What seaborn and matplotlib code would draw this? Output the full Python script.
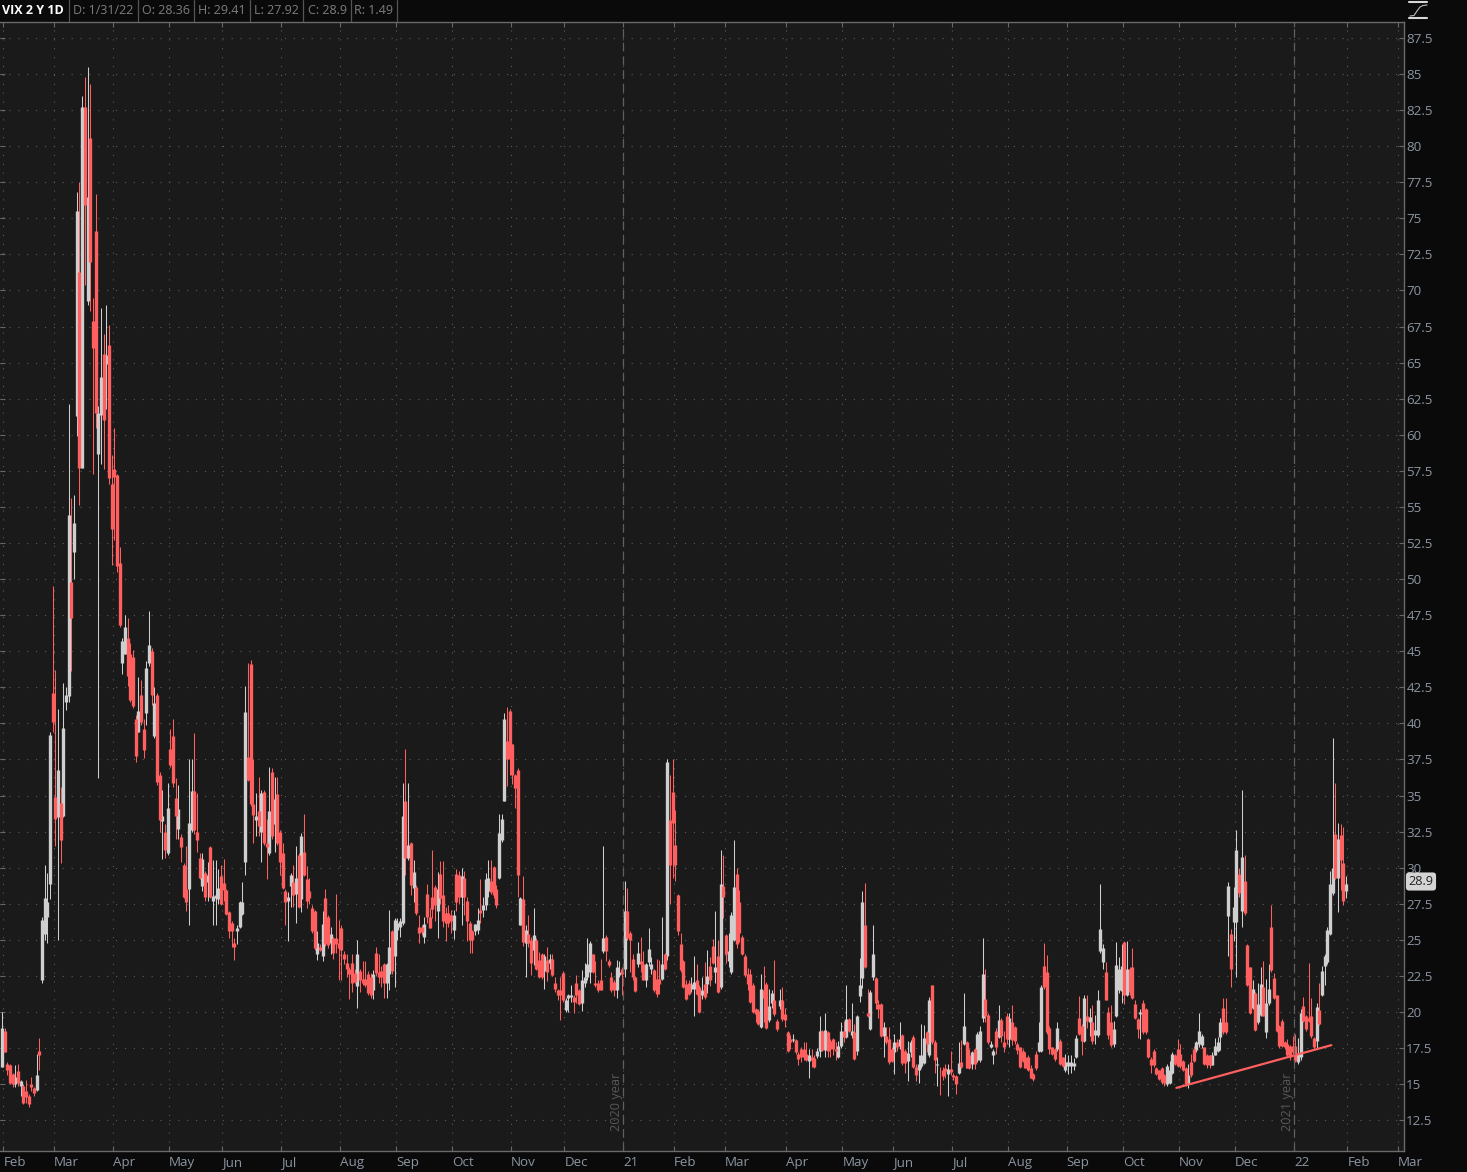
import pandas as pd
import seaborn as sns
import matplotlib.pyplot as plt
from matplotlib.lines import Line2D

# open, high, low, close per trading day
jan_20 = [(16.2,20.0,16.2,18.9)]
feb_20 = [(18.7,18.9,17.2,17.2),(16.4,16.5,15.6,16.0),(16.3,16.4,15.0,15.1),(15.7,15.8,14.8,15.0),(15.0,16.3,14.8,15.5),
          (15.9,16.4,14.9,15.1),(14.9,15.3,14.2,15.2),(14.9,15.0,13.6,13.7),(14.5,15.3,13.7,14.1),(14.2,14.3,13.4,13.6),
          (15.0,15.5,14.5,14.8),(14.7,14.8,14.2,14.4),(14.6,17.1,14.5,15.6),(17.3,18.2,16.0,17.0),(22.2,26.6,22.0,26.4),
          (25.4,30.2,25.0,27.9),(26.6,29.6,24.75,27.6),(28.9,39.4,27.8,39.2),(42.1,49.5,39.4,40.1)]
mar_20 = [(34.9,43.7,31.5,33.4),(33.5,41.0,25.0,36.8),(34.5,35.6,30.3,31.9),(33.6,42.8,33.5,39.7),(41.5,42.5,40.9,42.0),
          (41.9,62.1,41.5,54.46),(49.8,55.6,43.6,47.3),(51.9,55.8,50.0,53.9),(61.3,76.8,59.9,75.5),(71.3,77.5,55.1,57.7),
          (57.7,83.5,57.7,82.7),(82.7,84.8,70.4,75.9),(69.3,85.5,69.0,76.5),(80.6,84.3,68.6,72.0),(67.9,69.5,57.3,66.0),
          (74.1,76.7,60.5,61.5),(58.7,62.0,36.2,61.5),(61.4,68.8,58.0,64.0),(65.6,67.0,57.6,61.0),(64.9,69.0,61.8,65.5),
          (66.2,67.6,56.6,57.0),(56.6,58.6,51.0,53.5)]
apr_20 = [(57.6,60.5,52.7,57.06),(57.2,57.3,50.5,50.9),(51.1,52.2,46.7,46.8),(44.2,45.9,43.4,45.7),(44.8,47.5,44.8,46.7),
          (45.9,47.3,42.6,43.3),(44.8,45.6,41.5,41.6),(44.6,45.1,41.1,41.2),(40.3,40.6,37.3,37.75),(39.4,43.2,39.4,40.84),
          (42.0,43.0,39.9,40.1),(39.6,40.3,37.6,38.15),(40.7,44.3,39.9,43.83),(44.2,47.8,44.0,45.41),(45.0,45.2,41.3,41.98),
          (39.1,42.5,39.0,41.4),(42.0,42.1,35.7,35.93),(36.4,36.6,32.5,33.29),(33.2,35.4,30.6,33.57),(32.5,33.0,30.7,31.23),
          (31.0,35.9,30.9,34.15)]
may_20 = [(38.2,39.6,37.0,37.1),(39.1,40.3,35.6,35.9),(34.85,36.2,32.0,33.6),(32.7,35.7,32.0,34.1),(32.1,32.3,30.4,31.4),
          (30.2,30.3,27.9,27.95),(28.5,31.5,27.0,27.6),(28.5,37.5,26.0,33.1),(32.6,37.5,32.5,35.3),(35.3,39.3,32.3,32.6),
          (32.5,35.2,31.1,31.9),(30.7,31.0,29.2,29.3),(28.7,31.0,28.4,30.6),(29.6,29.8,27.7,28.0),(29.0,30.4,27.7,29.5),
          (31.4,31.5,27.9,28.0),(27.7,30.5,26.0,28.05),(27.9,30.5,26.0,28.1),(27.8,29.9,27.5,28.6),(29.4,30.2,27.4,27.5)]
jun_20 = [(28.95,30.6,27.7,28.45),(28.45,28.5,26.7,26.8),(26.9,27.0,25.1,25.6),(26.2,26.3,24.5,25.6),(24.8,25.1,23.6,24.5),
          (25.6,26.0,24.7,25.85),(25.9,27.7,25.8,27.6),(26.8,29.0,26.7,27.6),(30.4,42.6,29.5,40.8),(37.7,44.2,36.0,36.1),
          (44.1,44.4,34.3,34.4),(34.4,37.5,31.7,33.65),(33.3,35.2,32.2,33.55),(33.9,36.3,32.2,32.9),(32.5,35.4,30.4,35.2),
          (35.25,35.4,31.6,31.7),(31.7,33.4,29.2,31.4),(31.0,37.0,30.9,33.9),(36.6,36.9,32.0,32.2),(33.0,36.25,31.1,34.75),
          (35.1,36.3,31.6,31.7),(32.5,32.6,29.5,30.4)]
jul_20 = [(31.0,31.7,28.5,28.6),(28.4,28.5,26.0,27.6),(27.7,28.3,24.9,28.0),(28.75,29.6,27.3,29.5),(29.0,30.2,27.3,28.1),
          (28.2,31.5,26.2,29.3),(30.9,31.0,27.2,27.3),(27.8,32.4,26.9,32.2),(31.1,33.7,29.4,29.5),(29.2,30.1,27.2,27.7),
          (28.4,29.3,27.5,27.9),(27.2,27.4,25.5,25.6),(27.0,27.1,24.3,24.4),(24.0,25.6,23.6,24.8),(24.5,24.7,24.2,24.3),
          (23.9,27.0,23.5,26.1),(27.9,28.5,24.6,24.7),(26.6,26.7,24.4,24.65),(24.8,25.9,24.0,25.4),(25.1,25.2,23.7,24.1),
          (25.1,28.2,24.1,24.7),(24.8,26.4,22.2,24.4)]
aug_20 = [(25.8,26.0,22.2,24.3),(24.0,24.2,23.3,23.7),(23.4,24.0,22.4,23.0),(23.0,23.1,20.9,22.6),(23.4,24.0,21.4,22.0),
          (22.7,23.0,22.0,22.1),(21.8,25.0,20.3,24.0),(22.85,23.0,21.4,22.2),(22.3,23.5,21.9,22.0),(22.3,23.5,21.7,21.9),
          (22.6,22.85,21.2,21.3),(22.45,22.7,21.0,21.2),(21.5,22.9,20.9,22.6),(24.1,24.5,22.5,22.7),(22.8,24.0,22.0,22.45),
          (22.85,23.2,21.7,22.4),(23.3,23.4,20.95,22.0),(22.0,23.4,21.0,23.3),(22.6,27.1,21.5,24.5),(25.6,25.7,22.6,22.85),
          (23.85,26.5,21.7,26.4)]
sep_20 = [(25.7,26.5,25.0,26.2),(25.9,26.5,25.2,26.3),(26.2,35.9,26.0,33.6),(34.6,38.2,29.5,30.7),(30.7,35.9,30.55,31.6),
          (31.7,31.8,28.1,28.8),(28.6,30.55,27.6,29.7),(28.65,28.8,26.7,26.85),(25.9,26.7,24.8,25.5),(25.9,26.0,25.3,25.55),
          (25.2,26.55,24.8,26.1),(28.2,28.9,26.15,26.55),(26.6,27.2,25.8,25.8),(28.0,31.2,26.5,27.15),(28.65,28.8,26.3,27.4),
          (27.0,29.7,25.1,28.55),(29.55,30.45,27.5,27.9),(28.1,30.45,25.9,26.3),(26.85,27.3,24.9,26.2),(26.85,27.4,25.9,26.2),
          (26.7,27.1,25.5,26.3)]
oct_20 = [(25.7,27.1,25.05,26.7),(29.55,29.9,27.0,27.6),(29.5,29.8,27.5,28.0),(28.0,30.0,26.0,29.45),(29.3,29.75,26.7,28.0),
          (27.7,28.0,24.9,26.3),(26.2,26.3,24.1,25.0),(25.6,25.7,24.1,25.0),(25.6,26.1,25.35,26.1),(25.7,27.2,25.4,26.4),
          (27.1,29.2,26.15,26.85),(27.1,28.0,26.6,27.4),(27.4,29.65,27.1,29.2),(28.35,30.55,28.0,29.3),(29.1,30.55,28.2,28.3),
          (30.05,30.1,27.9,28.1),(28.5,28.8,27.2,27.4),(29.3,33.7,29.2,32.4),(31.9,33.7,31.75,33.35),(34.65,40.75,34.6,40.3),
          (38.8,41.15,35.65,37.5),(40.85,41.0,36.45,37.5)]
nov_20 = [(38.55,38.6,35.8,36.45),(36.45,36.5,34.15,35.55),(36.8,36.9,28.0,29.5),(26.05,28.0,26.0,27.9),(27.85,29.4,24.55,24.85),
          (24.8,26.0,22.4,25.7),(25.4,26.7,24.5,24.8),(25.0,25.2,22.55,23.4),(24.3,27.2,23.25,25.35),(25.0,25.1,22.9,23.0),
          (23.6,24.15,22.35,22.45),(24.05,24.1,22.3,22.4),(22.85,24.0,21.6,23.85),(23.6,24.5,22.15,22.8),(23.4,24.0,23.0,23.7),
          (23.65,24.0,22.5,22.55),(22.0,22.4,21.4,21.6),(21.5,21.6,20.85,21.2),(21.5,22.4,19.45,21.15),(22.7,22.85,20.7,20.85)]
dec_20 = [(20.15,21.0,20.0,20.8),(20.95,21.25,20.0,21.15),(21.05,21.9,20.7,21.2),(21.05,21.2,19.9,20.7),(22.0,22.55,20.6,21.2),
          (21.5,21.6,20.5,20.55),(20.6,22.9,20.05,22.2),(22.0,23.4,21.7,22.45),(22.45,25.1,22.2,23.3),(22.8,24.9,22.0,24.75),
          (24.0,24.05,22.7,22.8),(22.0,23.5,21.7,21.85),(22.0,22.2,21.4,21.5),(22.2,23.7,21.5,21.55),(24.2,31.5,24.1,25.15),
          (25.2,25.3,23.5,24.2),(23.5,23.7,23.1,23.25),(22.45,22.8,21.4,21.5),(22.1,22.2,21.1,21.5),(21.5,23.6,21.0,23.1),
          (22.55,23.5,22.4,22.8),(23.0,23.1,21.2,22.65)]
jan_21 = [(23.0,29.1,22.45,27.0),(27.0,28.6,25.0,25.1),(25.45,25.6,22.8,25.0),(23.7,24.0,22.2,22.4),(22.45,22.5,21.4,21.45),
          (23.3,24.85,23.1,24.1),(23.55,25.2,22.8,23.35),(23.3,24.2,22.2,22.2),(22.2,23.4,21.7,23.3),(23.45,25.8,23.2,24.35),
          (23.0,23.8,22.6,23.3),(22.9,23.0,21.4,21.5),(22.3,23.7,21.05,21.25),(22.3,23.6,21.25,21.95),(22.3,26.6,22.2,23.3),
          (24.0,24.1,22.9,23.0),(23.85,37.5,23.6,37.3),(33.3,36.4,27.5,30.2),(35.25,37.55,29.3,33.1)]
feb_21 = [(31.55,34.0,29.1,30.2),(28.1,28.15,25.35,25.6),(24.7,25.45,22.8,22.9),(23.5,23.6,21.65,21.75),(21.95,22.2,20.8,20.9),
          (22.0,22.2,21.2,21.25),(21.6,22.4,21.4,21.95),(21.6,23.9,19.75,22.05),(22.2,23.3,21.2,21.25),(21.7,21.9,19.95,20.0),
          (21.15,22.45,20.9,21.5),(21.95,23.45,20.9,21.05),(21.95,24.3,21.3,22.5),(23.2,23.8,21.8,22.2),(24.55,25.05,23.3,23.4),
          (22.75,27.0,22.0,23.1),(23.85,25.0,21.3,21.4),(21.7,31.2,21.6,28.9),(28.75,30.85,26.5,27.95)]
mar_21 = [(25.3,25.4,23.4,24.05),(23.55,25.5,23.1,24.2),(22.8,26.9,22.6,26.75),(25.0,31.95,24.9,28.65),(29.55,30.0,24.4,24.7),
          (27.6,28.45,24.85,25.45),(25.2,25.3,23.95,24.05),(23.85,24.0,22.4,22.55),(22.65,23.05,21.5,21.95),(22.65,23.0,20.6,20.7),
          (21.9,22.0,19.95,20.0),(20.2,20.3,19.3,19.85),(20.1,20.2,19.1,19.2),(18.95,22.65,18.9,21.6),(21.5,23.2,19.3,20.95),
          (21.95,22.1,18.85,18.9),(19.45,21.6,19.3,20.4),(20.65,21.55,20.3,21.3),(20.85,23.6,19.7,19.85),(19.4,19.5,18.7,18.8),
          (20.4,21.6,20.2,20.8),(20.8,21.75,19.4,19.5),(19.85,20.3,18.95,19.45)]
apr_21 = [(18.6,18.65,17.25,17.3),(18.1,18.4,17.4,17.9),(18.05,18.5,17.9,18.1),(18.05,18.1,17.1,17.2),(17.1,17.2,16.3,16.75),
          (17.45,17.6,16.5,16.85),(17.45,17.9,16.7,16.85),(17.1,17.9,16.6,16.7),(16.6,17.4,15.45,17.0),(16.85,17.45,16.2,16.65),
          (16.8,17.0,16.1,16.2),(16.95,17.5,16.8,17.3),(17.3,19.7,16.85,18.7),(18.7,18.75,17.3,17.35),(17.35,19.9,16.85,18.75),
          (18.6,18.7,16.85,17.3),(18.0,18.1,16.9,17.45),(18.1,18.2,17.0,17.45),(17.45,17.9,16.7,17.3),(16.85,18.0,16.8,17.65),
          (17.65,19.3,17.5,18.7)]
may_21 = [(18.7,19.35,17.9,18.3),(18.25,21.9,18.2,19.5),(19.5,19.6,18.6,18.7),(18.4,20.6,18.2,18.7),(18.6,19.2,16.7,16.75),
          (17.3,19.8,17.0,19.75),(21.1,23.75,20.7,21.9),(22.35,28.4,21.65,27.65),(26.05,28.95,23.05,23.15),(19.95,21.6,19.65,19.7),
          (18.8,21.5,18.75,21.4),(22.4,26.0,22.2,24.05),(22.35,22.4,20.2,20.65),(20.55,20.8,19.6,20.2),(20.55,20.6,18.3,18.35),
          (18.35,19.3,16.85,18.95),(18.35,18.95,17.8,17.9),(18.1,18.95,16.4,16.5),(17.4,17.6,16.5,16.6)]
jun_21 = [(17.25,18.5,15.7,17.9),(17.9,18.1,17.3,17.55),(17.65,19.3,17.4,18.1),(18.4,18.5,16.3,16.45),(17.3,17.4,15.8,16.45),
          (16.6,18.0,15.2,17.15),(17.2,18.05,16.9,17.95),(18.25,18.4,16.1,16.2),(16.2,16.4,15.25,15.65),(15.95,17.05,15.05,16.4),
          (16.25,19.15,16.1,17.05),(16.45,19.1,16.4,18.2),(18.6,18.7,17.2,17.75),(17.0,21.05,16.9,20.85),(21.85,21.9,17.8,17.9),
          (17.95,18.05,15.75,16.65),(16.3,16.85,14.9,16.4),(16.0,16.2,14.25,15.95),(16.0,16.2,15.3,15.55),(16.1,16.4,15.45,15.9),
          (15.7,16.4,14.15,16.05),(16.05,17.3,15.6,15.85)]
jul_21 = [(15.6,15.8,15.3,15.5),(15.55,15.6,14.3,15.0),(15.75,17.95,15.7,16.45),(16.5,18.05,16.1,16.2),(17.75,21.3,17.7,19.0),
          (17.95,18.0,16.1,16.15),(17.0,17.45,16.05,16.15),(16.4,17.3,16.05,17.2),(17.4,17.5,16.05,16.4),(16.7,18.6,16.5,18.5),
          (16.7,19.0,16.5,18.7),(19.6,25.15,19.3,22.6),(20.9,23.0,19.3,19.75),(19.8,19.9,17.8,17.9),(17.6,18.0,17.5,17.75),
          (17.05,17.45,16.4,17.3),(18.7,18.9,17.1,17.6),(18.3,20.45,18.2,19.45),(19.45,19.6,17.9,18.35),(17.95,18.7,17.2,17.6),
          (19.75,19.9,17.8,18.15)]
aug_21 = [(18.15,19.9,17.6,19.55),(19.3,20.45,17.7,18.05),(18.95,19.0,17.8,18.0),(17.8,17.9,17.1,17.35),(17.55,17.6,16.1,16.2),
          (17.3,17.4,16.5,16.6),(16.9,17.2,16.1,16.15),(16.85,17.0,15.9,16.0),(16.15,16.3,15.4,15.45),(15.7,15.8,15.2,15.35),
          (17.1,17.3,16.0,16.1),(17.3,19.3,17.2,17.9),(17.3,21.9,17.2,21.7),(23.2,24.75,21.6,21.7),(22.8,23.95,18.5,18.6),
          (18.9,19.0,17.1,17.45),(17.55,17.6,17.0,17.1),(17.45,17.5,16.6,16.75),(17.45,19.3,17.3,18.9),(18.0,18.1,16.3,16.4),
          (16.85,16.9,16.2,16.25),(16.0,17.1,15.85,16.5)]
sep_21 = [(16.25,17.0,15.7,16.5),(16.25,17.05,15.75,16.5),(16.25,16.8,16.0,16.45),(16.9,18.4,16.8,18.2),(19.6,21.1,18.4,18.5),
          (19.05,19.2,17.0,18.0),(18.0,21.2,17.9,21.0),(19.7,21.2,18.9,19.4),(19.3,20.3,18.35,19.65),(19.3,20.45,17.8,18.0),
          (18.4,19.8,17.8,18.75),(18.4,21.55,18.3,20.85),(24.25,28.85,24.1,25.75),(23.45,24.7,23.0,24.4),(22.8,23.45,20.8,20.85),
          (20.0,20.35,18.1,18.4),(19.3,20.45,17.6,17.7),(17.75,19.35,17.6,18.85),(19.75,24.85,19.65,23.25),(21.5,23.8,21.3,23.0),
          (21.45,24.7,20.65,23.2)]
oct_21 = [(24.85,24.95,20.55,21.15),(21.2,24.9,21.1,23.0),(23.0,23.1,21.2,21.35),(23.1,24.4,20.9,21.0),(20.55,20.8,19.5,19.6),
          (19.5,19.6,18.2,18.8),(19.85,20.2,18.1,20.0),(20.65,20.8,18.5,18.6),(20.2,20.25,18.5,18.6),(18.1,18.2,16.8,16.85),
          (16.75,16.85,15.8,16.3),(17.3,17.4,16.2,16.3),(16.15,16.2,15.65,15.7),(15.95,16.0,15.3,15.35),(16.15,16.2,15.0,15.15),
          (15.6,15.7,14.9,15.1),(15.0,16.4,14.85,16.25),(15.1,16.6,15.0,16.0),(15.8,17.2,15.7,17.1),(17.0,17.1,16.3,16.4),
          (17.45,18.1,16.2,16.25)]
nov_21 = [(17.1,17.8,16.1,16.25),(16.6,16.7,15.9,16.0),(16.15,16.2,14.9,15.0),(15.05,16.4,14.7,15.6),(16.5,17.1,15.5,15.6),
          (17.4,17.65,16.5,16.6),(17.35,18.0,17.2,17.9),(17.8,19.9,17.6,18.7),(17.7,18.5,17.5,18.35),(17.55,17.6,16.3,16.4),
          (17.0,17.1,16.15,16.35),(17.0,17.05,16.1,16.3),(16.35,17.2,16.3,17.05),(17.05,18.2,17.0,17.65),(17.3,18.3,17.2,17.9),
          (18.25,19.6,17.35,19.3),(20.3,21.0,18.5,18.6),(19.3,21.0,18.5,18.6),(26.65,29.0,23.85,28.7),(25.4,25.75,21.7,23.0),
          (26.25,28.65,24.95,27.3)]
dec_21 = [(26.25,32.6,22.45,31.2),(29.55,30.0,28.0,28.25),(27.0,35.4,25.9,30.75),(29.05,30.9,26.75,26.85),(24.65,24.7,21.8,21.85),
          (23.1,23.15,19.85,19.9),(20.3,22.2,20.2,21.6),(21.3,21.4,18.7,18.75),(19.3,22.0,19.2,20.55),(19.8,23.15,19.7,21.95),
          (21.7,23.5,19.7,19.75),(18.6,22.3,18.2,20.65),(20.65,23.3,20.5,21.6),(25.9,27.4,22.8,22.9),(22.35,22.7,20.9,21.0),
          (21.15,21.2,18.6,18.7),(19.05,19.1,17.5,17.65),(19.4,19.5,17.6,17.65),(17.9,18.0,17.45,17.55),(17.8,18.1,16.9,17.0),
          (17.65,17.7,16.7,16.85),(17.65,18.35,17.1,17.2)]
jan_22 = [(17.65,18.5,16.5,16.6),(16.5,18.2,16.4,17.1),(16.85,20.2,16.7,19.9),(20.4,21.05,19.3,19.4),(19.7,19.8,18.7,18.8),
          (19.6,23.4,19.3,19.4),(19.7,21.0,18.2,18.35),(18.2,18.3,17.4,17.6),(18.0,20.6,17.4,20.35),(20.15,22.0,19.1,19.2),
          (21.2,23.2,21.1,22.85),(23.2,24.0,21.85,23.9),(23.45,25.9,23.3,25.65),(25.4,29.8,25.3,28.9),(28.25,39.0,28.1,29.95),
          (32.35,35.9,29.2,29.3),(29.3,33.1,26.9,32.0),(32.25,33.0,28.45,30.5),(30.35,32.8,27.4,27.7),(28.36,29.41,27.92,28.9)]

months = [feb_20, mar_20, apr_20, may_20, jun_20, jul_20, aug_20, sep_20, oct_20, nov_20, dec_20, jan_21,
          feb_21, mar_21, apr_21, may_21, jun_21, jul_21, aug_21, sep_21, oct_21, nov_21, dec_21, jan_22]
month_labels = ['Feb', 'Mar', 'Apr', 'May', 'Jun', 'Jul', 'Aug', 'Sep', 'Oct', 'Nov', 'Dec', '21',
                'Feb', 'Mar', 'Apr', 'May', 'Jun', 'Jul', 'Aug', 'Sep', 'Oct', 'Nov', 'Dec', '22', 'Feb', 'Mar']
price_ticks = [12.5 + 2.5 * k for k in range(31)]
header_cells = ['D: 1/31/22', 'O: 28.36', 'H: 29.41', 'L: 27.92', 'C: 28.9', 'R: 1.49']
trend_x = [439.5, 497.5]
trend_y = [14.74, 17.7]

RED = '#ff5f5f'
GRAY = '#cfcfcf'
LABEL = '#8b95a1'

rows = list(jan_20)
tick_pos = []
for m in months:
    tick_pos.append(len(rows) - 0.5)
    rows += m
tick_pos += [len(rows) - 0.5, len(rows) + 18.5]

df = pd.DataFrame(rows, columns=['open', 'high', 'low', 'close'])
df['bar'] = df.index
df['dir'] = ['up' if c >= o else 'down' for o, c in zip(df['open'], df['close'])]

wicks = df.melt(id_vars=['bar', 'dir'], value_vars=['high', 'low'], value_name='price')
bodies = df.melt(id_vars=['bar', 'dir'], value_vars=['open', 'close'], value_name='price')

sns.set_style('dark')
plt.rcParams['font.family'] = ['Open Sans', 'DejaVu Sans']

fig = plt.figure(figsize=(14.67, 11.72), dpi=100, facecolor='#0a0a0a')
ax = fig.add_axes([0, 21.5 / 1172, 1403.5 / 1467, 1129 / 1172], facecolor='#1a1a1a')

palette = {'up': GRAY, 'down': RED}
sns.lineplot(data=wicks, x='bar', y='price', units='bar', hue='dir', palette=palette, estimator=None,
             errorbar=None, legend=False, lw=0.75, solid_capstyle='butt', ax=ax)
sns.lineplot(data=bodies, x='bar', y='price', units='bar', hue='dir', palette=palette, estimator=None,
             errorbar=None, legend=False, lw=2.4, solid_capstyle='butt', ax=ax)
sns.lineplot(x=trend_x, y=trend_y, color=RED, lw=1.6, ax=ax)

ax.set_xlim(-0.75, 524.5)
ax.set_ylim(10.4, 88.64)
ax.set_xlabel('')
ax.set_ylabel('')

ax.set_xticks(tick_pos)
ax.set_xticklabels(month_labels, ha='left', color=LABEL, fontsize=9.6)
ax.set_yticks(price_ticks)
ax.set_yticklabels([f'{p:g}' for p in price_ticks], color=LABEL, fontsize=9.6)
ax.tick_params(axis='x', direction='in', length=3.6, width=0.8, color='#666666', top=True, bottom=True, pad=4)
ax.tick_params(axis='y', direction='in', length=3.6, width=0.8, color='#666666', left=True, right=True,
               labelleft=False, labelright=True, pad=2)
ax.grid(True, color='#5c5c5c', lw=0.8, linestyle=(0, (1, 7)))
ax.set_axisbelow(True)
for side, sp in ax.spines.items():
    sp.set_color('#6a6a6a')
    sp.set_linewidth(1.0)
    sp.set_visible(side != 'left')

# year separators
for pos, name in [(tick_pos[11], '2020 year'), (tick_pos[23], '2021 year')]:
    ax.axvline(pos, color='#5f5f5f', lw=0.9, linestyle=(0, (7, 4)))
    ax.text(pos - 0.0, 11.75, name, rotation=90, ha='right', va='bottom', color='#575757', fontsize=9.2)

# header strip
fig.text(2 / 1467, 1 - 10.5 / 1172, 'VIX 2 Y 1D', color='white', fontsize=9.0, fontweight='bold', va='center')
cell_edges = [69, 138, 194, 250, 303, 351, 397]
for left, right, txt in zip(cell_edges[:-1], cell_edges[1:], header_cells):
    fig.text((left + right) / 2 / 1467, 1 - 10.5 / 1172, txt, color='#7d7d7d', fontsize=9.0, ha='center', va='center')
for edge in cell_edges:
    fig.add_artist(Line2D([edge / 1467] * 2, [1 - 21 / 1172, 1], color='#555555', lw=0.9))

# scale icon top right
for y in (2, 18):
    fig.add_artist(Line2D([1409 / 1467, 1427 / 1467], [1 - y / 1172] * 2, color='#d8d8d8', lw=1.5))
fig.add_artist(Line2D([v / 1467 for v in (1410, 1414, 1417, 1420, 1423, 1427)],
                      [1 - v / 1172 for v in (16, 15.5, 11, 7, 5.5, 5)], color='#bdbdbd', lw=0.8))

# last price tag
fig.text(1421 / 1467, 1 - 881.5 / 1172, '28.9', color='#222222', fontsize=9.2, ha='center', va='center',
         bbox=dict(boxstyle='round,pad=0.2,rounding_size=0.25', fc='#d4d4d4', ec='none'))

fig.savefig('out.png', dpi=100, facecolor=fig.get_facecolor())
